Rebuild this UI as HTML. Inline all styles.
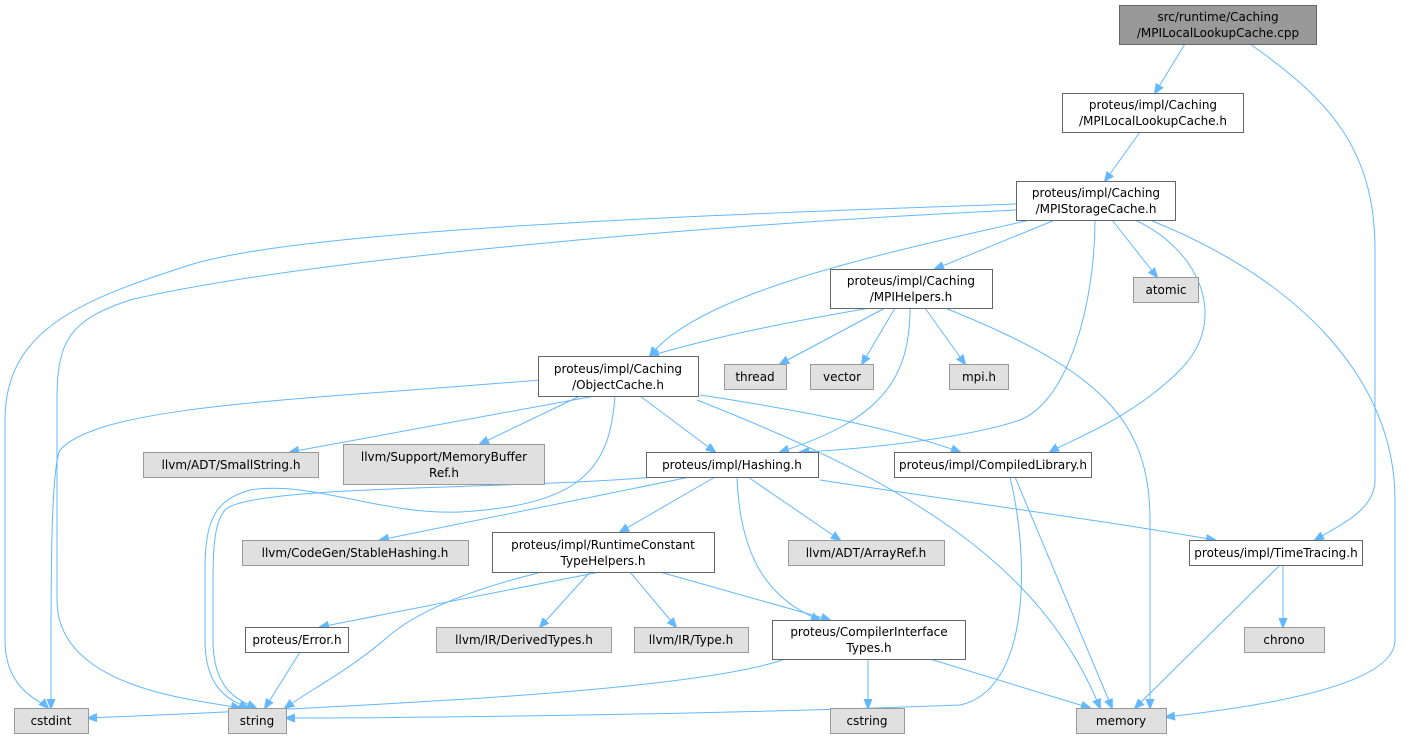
<!DOCTYPE html>
<html><head><meta charset="utf-8"><style>
html,body{margin:0;padding:0;background:#fff;}
svg{display:block;}
text{font-family:"DejaVu Sans","Liberation Sans",sans-serif;font-size:12px;fill:#000;}
.w{fill:#fff;stroke:#666;stroke-width:1;}
.g{fill:#e0e0e0;stroke:#999;stroke-width:1;}
.r{fill:#999;stroke:#666;stroke-width:1;}
path{fill:none;stroke:#63b8ff;stroke-width:1;}
</style></head><body>
<svg width="1413" height="740" viewBox="0 0 1413 740" xmlns="http://www.w3.org/2000/svg">
<defs><marker id="a" viewBox="0 0 10 10" refX="9" refY="5" markerWidth="10" markerHeight="10" markerUnits="userSpaceOnUse" orient="auto"><path d="M0,1 L10,5 L0,9 z" style="fill:#63b8ff;stroke:#63b8ff"/></marker></defs>
<g marker-end="url(#a)">
<path d="M1185,44 L1155,93"/>
<path d="M1250,44 C1330,100 1375,150 1375,250 L1375,480 C1375,510 1340,525 1315,540"/>
<path d="M1140,132 L1105,181"/>
<path d="M1016,204 C700,215 300,230 190,265 C80,300 5,330 5,420 L5,640 C5,690 40,700 48,708"/>
<path d="M1016,210 C700,225 300,260 130,300 C70,320 57,340 57,400 L57,600 C57,690 200,700 240,708"/>
<path d="M1030,220 C900,250 700,290 650,356"/>
<path d="M1055,220 L935,269"/>
<path d="M1095,220 C1095,300 1070,400 1020,420 C960,440 850,450 800,452"/>
<path d="M1112,220 L1157,277"/>
<path d="M1135,220 C1200,250 1230,320 1180,370 C1130,420 1070,440 1050,452"/>
<path d="M1150,220 C1300,280 1395,380 1395,500 L1395,640 C1395,690 1230,710 1166,717"/>
<path d="M870,308 C800,320 720,335 650,356"/>
<path d="M885,308 L780,364"/>
<path d="M895,308 L862,364"/>
<path d="M925,308 L965,364"/>
<path d="M910,308 C910,380 880,420 780,452"/>
<path d="M945,308 C1100,370 1150,420 1150,520 L1150,708"/>
<path d="M540,380 C300,400 100,405 60,450 C50,470 51,600 51,708"/>
<path d="M595,396 L290,452"/>
<path d="M580,396 L480,444"/>
<path d="M640,396 L715,452"/>
<path d="M700,395 C800,410 900,430 960,452"/>
<path d="M697,400 C900,480 1040,560 1100,708"/>
<path d="M615,396 C610,470 580,505 460,512 C380,515 310,480 250,490 C215,500 205,520 205,570 L205,640 C205,690 230,700 248,708"/>
<path d="M655,477 C500,490 250,485 225,510 C212,525 213,560 213,600 L213,640 C213,690 238,700 256,708"/>
<path d="M690,477 L380,540"/>
<path d="M715,477 L620,532"/>
<path d="M737,477 C740,560 770,600 820,620"/>
<path d="M748,477 L840,540"/>
<path d="M820,480 C950,500 1100,520 1215,540"/>
<path d="M1010,477 C1030,560 1030,690 960,705 C700,715 400,718 286,718"/>
<path d="M1015,477 L1112,708"/>
<path d="M1283,565 L1283,627"/>
<path d="M1280,565 L1135,708"/>
<path d="M600,572 L320,627"/>
<path d="M590,572 L540,627"/>
<path d="M630,572 L676,627"/>
<path d="M660,572 L830,620"/>
<path d="M538,573 C470,590 420,610 390,635 C350,670 310,690 285,708"/>
<path d="M300,652 L265,708"/>
<path d="M785,659 C700,690 400,705 88,718"/>
<path d="M868,659 L868,708"/>
<path d="M930,659 L1090,708"/>
</g>

<rect class="r" x="1119.5" y="5.5" width="197" height="39"/>
<text x="1218" y="21" text-anchor="middle">src/runtime/Caching</text><text x="1218" y="37" text-anchor="middle">/MPILocalLookupCache.cpp</text>

<rect class="w" x="1062.5" y="93.5" width="181" height="39"/>
<text x="1153" y="109" text-anchor="middle">proteus/impl/Caching</text><text x="1153" y="125" text-anchor="middle">/MPILocalLookupCache.h</text>

<rect class="w" x="1016.5" y="181.5" width="159" height="39"/>
<text x="1096" y="197" text-anchor="middle">proteus/impl/Caching</text><text x="1096" y="213" text-anchor="middle">/MPIStorageCache.h</text>

<rect class="g" x="1133.5" y="277.5" width="65" height="25"/><text x="1166" y="294" text-anchor="middle">atomic</text>

<rect class="w" x="830.5" y="269.5" width="162" height="39"/>
<text x="911" y="285" text-anchor="middle">proteus/impl/Caching</text><text x="911" y="301" text-anchor="middle">/MPIHelpers.h</text>

<rect class="g" x="724.5" y="364.5" width="62" height="25"/><text x="755" y="381" text-anchor="middle">thread</text>
<rect class="g" x="810.5" y="364.5" width="63" height="25"/><text x="842" y="381" text-anchor="middle">vector</text>
<rect class="g" x="949.5" y="364.5" width="59" height="25"/><text x="979" y="381" text-anchor="middle">mpi.h</text>

<rect class="w" x="538.5" y="356.5" width="160" height="40"/>
<text x="618" y="373" text-anchor="middle">proteus/impl/Caching</text><text x="618" y="389" text-anchor="middle">/ObjectCache.h</text>

<rect class="g" x="143.5" y="452.5" width="175" height="25"/><text x="231" y="469" text-anchor="middle">llvm/ADT/SmallString.h</text>
<rect class="g" x="343.5" y="444.5" width="201" height="40"/><text x="444" y="461" text-anchor="middle">llvm/Support/MemoryBuffer</text><text x="444" y="477" text-anchor="middle">Ref.h</text>
<rect class="w" x="646.5" y="452.5" width="172" height="25"/><text x="732" y="469" text-anchor="middle">proteus/impl/Hashing.h</text>
<rect class="w" x="894.5" y="452.5" width="197" height="25"/><text x="993" y="469" text-anchor="middle">proteus/impl/CompiledLibrary.h</text>

<rect class="g" x="242.5" y="540.5" width="226" height="25"/><text x="355" y="557" text-anchor="middle">llvm/CodeGen/StableHashing.h</text>
<rect class="w" x="492.5" y="532.5" width="222" height="40"/><text x="603" y="549" text-anchor="middle">proteus/impl/RuntimeConstant</text><text x="603" y="565" text-anchor="middle">TypeHelpers.h</text>
<rect class="g" x="788.5" y="540.5" width="156" height="25"/><text x="866" y="557" text-anchor="middle">llvm/ADT/ArrayRef.h</text>
<rect class="w" x="1189.5" y="540.5" width="173" height="25"/><text x="1276" y="557" text-anchor="middle">proteus/impl/TimeTracing.h</text>

<rect class="w" x="245.5" y="627.5" width="103" height="25"/><text x="297" y="644" text-anchor="middle">proteus/Error.h</text>
<rect class="g" x="436.5" y="627.5" width="175" height="25"/><text x="524" y="644" text-anchor="middle">llvm/IR/DerivedTypes.h</text>
<rect class="g" x="634.5" y="627.5" width="114" height="25"/><text x="691" y="644" text-anchor="middle">llvm/IR/Type.h</text>
<rect class="w" x="772.5" y="620.5" width="193" height="39"/><text x="869" y="636" text-anchor="middle">proteus/CompilerInterface</text><text x="869" y="652" text-anchor="middle">Types.h</text>
<rect class="g" x="1244.5" y="627.5" width="80" height="25"/><text x="1284" y="644" text-anchor="middle">chrono</text>

<rect class="g" x="14.5" y="708.5" width="74" height="25"/><text x="51" y="725" text-anchor="middle">cstdint</text>
<rect class="g" x="228.5" y="708.5" width="58" height="25"/><text x="257" y="725" text-anchor="middle">string</text>
<rect class="g" x="830.5" y="708.5" width="74" height="25"/><text x="867" y="725" text-anchor="middle">cstring</text>
<rect class="g" x="1076.5" y="708.5" width="90" height="25"/><text x="1121" y="725" text-anchor="middle">memory</text>
</svg>
</body></html>
